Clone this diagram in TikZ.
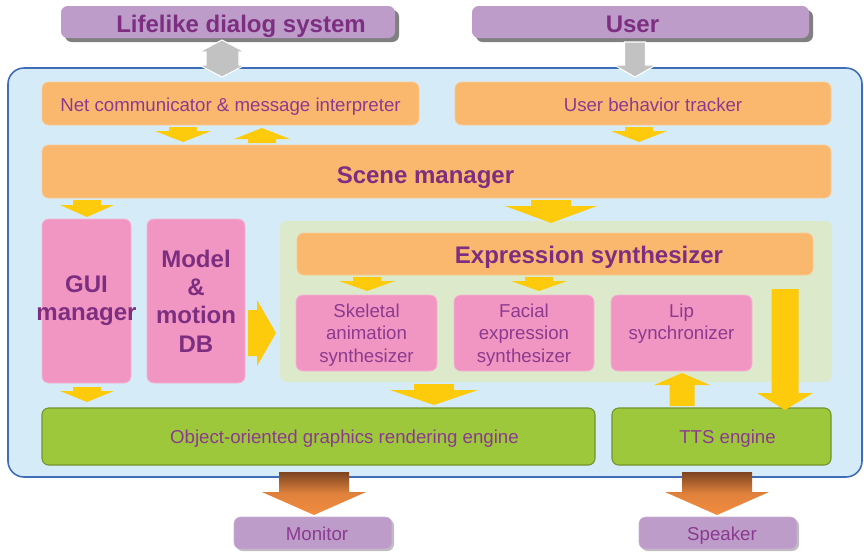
\documentclass[tikz,border=0pt]{standalone}
\usepackage{fontspec}
\setmainfont{Liberation Sans}
\usetikzlibrary{shadows}

\definecolor{panelblue}{HTML}{D5ECF8}
\definecolor{panelline}{HTML}{3F6DB8}
\definecolor{boxorange}{HTML}{FAB86F}
\definecolor{boxpink}{HTML}{F196C2}
\definecolor{zonegreen}{HTML}{DCEACB}
\definecolor{enginegreen}{HTML}{9DC83C}
\definecolor{engineline}{HTML}{74922C}
\definecolor{ioviolet}{HTML}{BD9CCA}
\definecolor{txtpurple}{HTML}{8C3A8F}
\definecolor{headpurple}{HTML}{7D2E80}
\definecolor{arrowgold}{HTML}{FDCA0C}
\definecolor{arrowgray}{HTML}{C2C2C2}
\definecolor{outbrown}{HTML}{7C4522}
\definecolor{outorange}{HTML}{F28C40}

\newcommand{\regfont}{\fontsize{14}{17}\selectfont}
\newcommand{\headfont}{\fontsize{18}{21.2}\selectfont\bfseries}
\newcommand{\topfont}{\fontsize{18}{21}\selectfont\bfseries}

% box given by its pixel corners: name, style, x1, y1, x2, y2, text
\newcommand{\placebox}[7]{%
  \pgfmathsetmacro\bxw{(#5-#3)*0.75}%
  \pgfmathsetmacro\bxh{(#6-#4)*0.75}%
  \node[#2, minimum width=\bxw pt, minimum height=\bxh pt] (#1)
    at ({(#3+#5)/2},{(#4+#6)/2}) {#7};}

% vertical block arrow: style, centre x, tail y, head-base y, tip y, body half, head half
\newcommand{\varrow}[7][yarrow]{%
  \path[#1] ({#2-#6},#3) -- ({#2+#6},#3) -- ({#2+#6},#4) -- ({#2+#7},#4)
    -- (#2,#5) -- ({#2-#7},#4) -- ({#2-#6},#4) -- cycle;}
% horizontal block arrow: style, centre y, tail x, head-base x, tip x, body half, head half
\newcommand{\harrow}[7][yarrow]{%
  \path[#1] (#3,{#2-#6}) -- (#4,{#2-#6}) -- (#4,{#2-#7}) -- (#5,#2)
    -- (#4,{#2+#7}) -- (#4,{#2+#6}) -- (#3,{#2+#6}) -- cycle;}

\begin{document}
\begin{tikzpicture}[x=0.75pt, y=-0.75pt,
  base/.style={rounded corners=5pt, inner sep=0pt, align=center,
    text=txtpurple, font=\regfont},
  capfit/.style={text depth=0pt, text height=#1},
  orangebox/.style={base, fill=boxorange, draw=boxorange!75!white, line width=0.6pt},
  pinkbox/.style={base, fill=boxpink, draw=boxpink!70!white, line width=0.6pt},
  zonebox/.style={base, fill=zonegreen},
  enginebox/.style={base, fill=enginegreen, draw=engineline, line width=0.8pt},
  iobox/.style={base, fill=ioviolet, text=headpurple, font=\topfont,
    drop shadow={shadow xshift=3pt, shadow yshift=-3pt, fill=black!50, opacity=1}},
  iosmall/.style={base, fill=ioviolet, draw=ioviolet!80!white,
    drop shadow={shadow xshift=1.5pt, shadow yshift=-1.5pt, fill=black!25, opacity=1}},
  head/.style={text=headpurple, font=\headfont},
  yarrow/.style={fill=arrowgold},
  grayarrow/.style={fill=arrowgray, draw=white, line width=0.8pt},
  outarrow/.style={top color=outbrown, bottom color=outorange, middle color=outorange!85!outbrown},
]
\useasboundingbox (0,0) rectangle (864,551);

% external partners
\placebox{dialog}{iobox,capfit=15.8pt}{61}{6}{395}{38}{\hspace*{19.5pt}Lifelike dialog system}
\placebox{user}{iobox,capfit=15.8pt}{472}{6}{809}{38}{User\hspace*{12pt}}

% system panel
\path[fill=panelblue, draw=panelline, line width=1.2pt, rounded corners=12pt]
  (8,68) rectangle (862,477);

% links to the outside
\path[grayarrow] (222,40) -- (245,52) -- (239,52) -- (239,65) -- (245,65) -- (222,77)
  -- (199,65) -- (206,65) -- (206,52) -- (199,52) -- cycle;
\varrow[grayarrow]{635}{42}{65}{77}{10.5}{21}

% modules
\placebox{net}{orangebox,capfit=12.3pt}{42}{82}{419}{125}{Net communicator \& message interpreter}
\placebox{tracker}{orangebox,capfit=12.3pt}{455}{82}{831}{125}{\hspace*{15pt}User behavior tracker}
\placebox{scene}{orangebox,head,capfit=18pt}{42}{145}{831}{198}{Scene manager\hspace*{16.5pt}}
% the second label line is wider than the box and spills over its sides
\placebox{gui}{pinkbox,head}{42}{219}{131}{383}{GUI\\\makebox[0pt]{manager}}
\placebox{model}{pinkbox,head}{147}{219}{245}{383}{Model\\\&\\motion\\DB}
\placebox{zone}{zonebox}{280}{221}{832}{382}{}
\placebox{expr}{orangebox,head,capfit=14.5pt}{297}{233}{813}{275}{\hspace*{51pt}Expression synthesizer}
\placebox{skel}{pinkbox,text depth=0pt}{296}{295}{437}{371}{Skeletal\\animation\\synthesizer}
\placebox{facial}{pinkbox,text depth=0pt}{454}{295}{594}{371}{Facial\\expression\\synthesizer}
\placebox{lip}{pinkbox,text depth=0pt}{611}{295}{752}{371}{Lip\\synchronizer\\\strut}
\placebox{render}{enginebox,capfit=10.8pt}{42}{408}{595}{465}{\hspace*{39pt}Object-oriented graphics rendering engine}
\placebox{tts}{enginebox,capfit=10.8pt}{612}{408}{831}{465}{\hspace*{9pt}TTS engine}

% outputs
\placebox{monitor}{iosmall,capfit=11.5pt}{234}{517}{392}{549}{\hspace*{6pt}Monitor}
\placebox{speaker}{iosmall,capfit=11.5pt}{639}{517}{797}{549}{\hspace*{6pt}Speaker}

% data flow inside the panel
\varrow{183}{127}{131}{142}{14}{28}
\varrow{262}{143}{139}{128}{14}{28}
\varrow{639}{127}{131}{142}{14}{28}
\varrow{87}{200}{205}{217}{14}{27}
\varrow{551}{200}{206}{223}{20}{46}
\varrow{367}{277}{281}{291}{14}{28}
\varrow{539}{277}{281}{291}{14}{28}
\harrow{333}{248}{257}{276}{23}{33}
\varrow{785}{289}{393}{410}{13.5}{28}
\varrow{682}{406}{385}{373}{12.5}{28}
\varrow{87}{387}{391}{402}{14}{27}
\varrow{434}{384}{390}{405}{20}{44}

% output arrows
\varrow[outarrow]{314}{472}{492}{515}{35}{52}
\varrow[outarrow]{717}{472}{492}{515}{35}{52}
\end{tikzpicture}
\end{document}
